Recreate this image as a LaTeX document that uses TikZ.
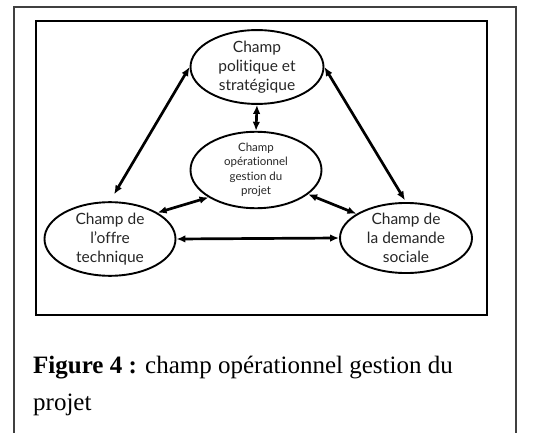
\documentclass[tikz,border=0pt]{standalone}
\usepackage{fontspec}
\setmainfont{Liberation Serif}
\newfontfamily\diagfont[Ligatures=NoCommon]{Lato}
\usetikzlibrary{shapes.geometric,arrows.meta}
\begin{document}
\begin{tikzpicture}[x=1pt,y=-1pt,
  field/.style={draw, ellipse, line width=1.9pt, inner sep=0pt, align=center,
    text=black!85, font=\diagfont\fontsize{15.5}{19}\selectfont},
  link/.style={line width=2.7pt, {Latex[length=9pt,width=7.5pt]}-{Latex[length=9pt,width=7.5pt]}},
  caption/.style={anchor=base west, inner sep=0pt, font=\fontsize{25}{30}\selectfont}]
\useasboundingbox (0,0) rectangle (557,433);
\draw[line width=1.2pt, black!75] (14,433) -- (14,7) -- (516,7) -- (516,433);
\draw[line width=2.6pt] (36,21) rectangle (487,315);
\node[field, minimum width=133pt, minimum height=62pt] (top) at (257,67)
  {Champ\\politique et\\stratégique};
\node[field, minimum width=131pt, minimum height=60pt,
  font=\diagfont\fontsize{11.5}{14.5}\selectfont] (mid) at (256,170)
  {Champ\\opérationnel\\gestion du\\projet};
\node[field, minimum width=131pt, minimum height=55pt] (left) at (110,239)
  {Champ de\\l’offre\\technique};
\node[field, minimum width=132pt, minimum height=57pt] (right) at (406,238)
  {Champ de\\la demande\\sociale};
\draw[link, shorten >=8pt] (top.west) -- (left.north);
\draw[link, shorten >=2pt] (top.east) -- (right.north);
\draw[link] (top.south) -- (mid.north);
\draw[link] (mid.210) -- (left.29);
\draw[link] (mid.335) -- (right.154);
\draw[link] (left.east) -- (right.west);
\node[caption] (cap1) at (33,373) {\textbf{Figure 4 :} champ opérationnel gestion du};
\node[caption] (cap2) at (33,410) {projet};
\end{tikzpicture}
\end{document}
